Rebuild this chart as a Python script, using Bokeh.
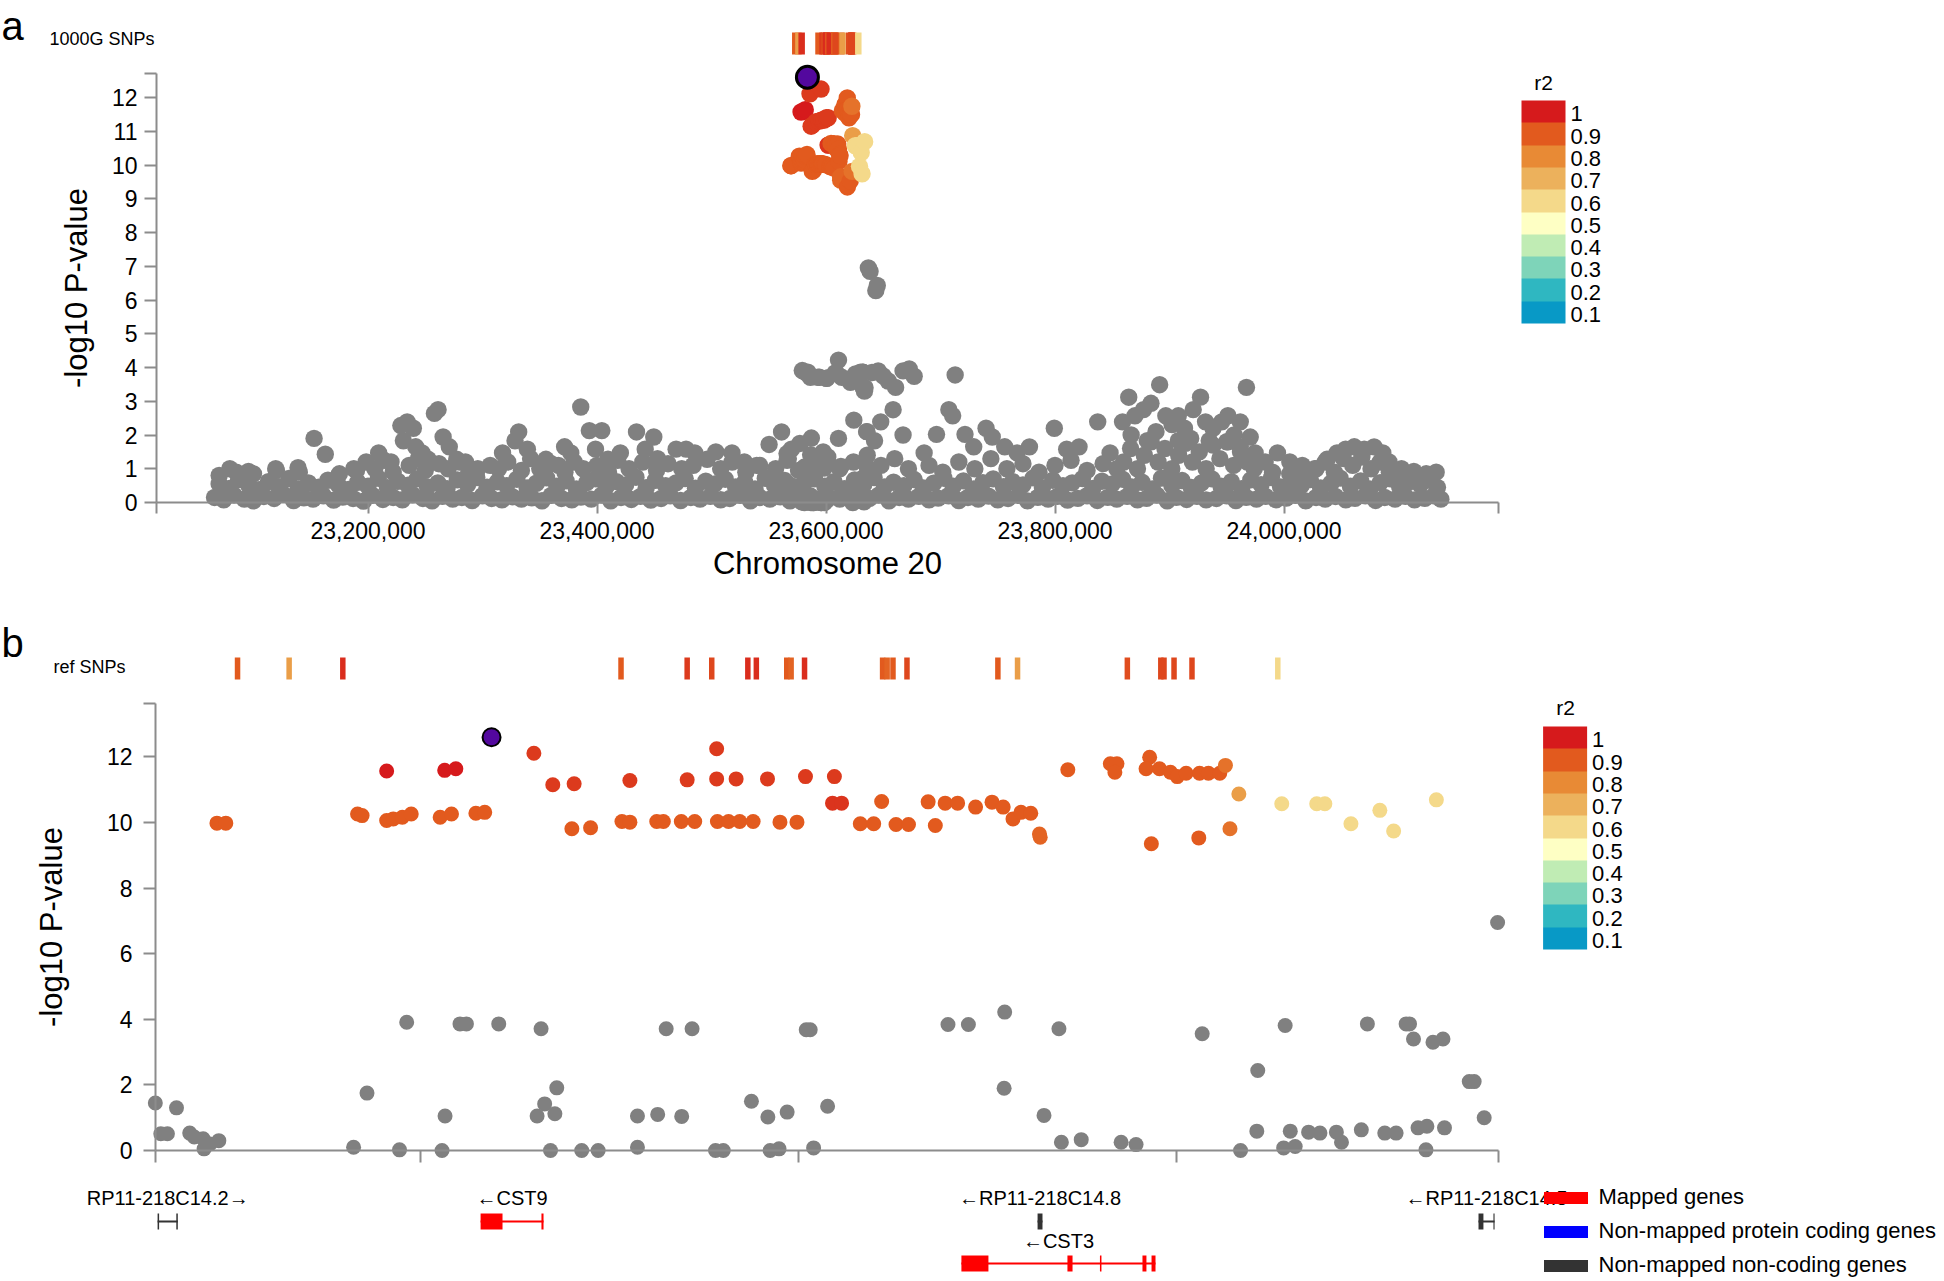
import numpy as np
from bokeh.plotting import figure
from bokeh.models import (Range1d, LinearAxis, FixedTicker, ColumnDataSource, ColorBar,
                          LinearColorMapper, Label, Legend, LegendItem, NumeralTickFormatter)
from bokeh.core.properties import value
from bokeh.embed import file_html
from bokeh.resources import INLINE

# ======================= DATA =======================
# lead SNP (kb on chr20, -log10 P)
lead_kb = 23583.77
lead_p = 12.6

# SNPs in LD with the lead (kb, -log10 P, r2)
snp_kb = [23569.24, 23569.71, 23576.68, 23576.92, 23578.22, 23578.22, 23578.57, 23579.05, 23579.52,
          23581.05, 23581.65, 23581.29, 23581.88, 23582.94, 23583.41,
          23586.01, 23587.01, 23588.14, 23588.02, 23589.01, 23590.67, 23591.09, 23591.09,
          23592.51, 23592.86, 23593.81, 23594.12, 23594.52, 23595.72, 23596.31, 23596.90, 23597.61,
          23599.03, 23599.93, 23595.68, 23595.68, 23596.71, 23598.37, 23600.38, 23601.91,
          23601.81, 23602.29, 23603.28, 23603.99, 23604.41, 23605.17, 23605.83, 23607.25,
          23606.87, 23607.77, 23608.43, 23609.38, 23610.25, 23610.84, 23611.36, 23611.78,
          23612.30, 23612.80, 23612.76, 23614.26, 23616.51, 23616.86, 23616.75, 23618.59,
          23618.40, 23619.11, 23619.69, 23620.05, 23620.52, 23621.23, 23621.70, 23622.30,
          23622.60, 23623.31, 23618.68, 23621.19, 23622.84,
          23625.58, 23627.43, 23627.86, 23629.24, 23630.77, 23631.50, 23633.76]
snp_p = [9.98, 9.98, 10.26, 10.21, 11.57, 10.06, 10.11, 10.16, 10.26,
         10.16, 10.26, 11.59, 11.64, 10.28, 10.31,
         12.11, 11.15, 11.18, 9.81, 9.84, 10.03, 10.01, 11.28,
         10.03, 10.03, 10.03, 11.30, 10.03, 10.03, 10.03, 10.03, 10.03,
         10.01, 10.01, 12.25, 11.33, 11.33, 11.33, 11.40, 11.40,
         10.59, 10.59, 9.96, 9.96, 10.64, 9.94, 9.94, 9.91,
         10.63, 10.59, 10.59, 10.47, 10.62, 10.47, 10.11, 10.31,
         10.28, 9.55, 9.65, 11.61, 11.79, 11.79, 11.53, 11.99,
         11.64, 11.64, 11.53, 11.40, 11.50, 11.50, 11.50, 11.50,
         11.74, 10.87, 9.35, 9.53, 9.81,
         10.57, 10.57, 10.57, 9.96, 10.37, 9.74, 10.69]
snp_r2 = [0.9, 0.9, 0.9, 0.9, 1.0, 0.9, 0.9, 0.9, 0.9,
          0.9, 0.9, 1.0, 1.0, 0.9, 0.9,
          0.95, 0.95, 0.95, 0.9, 0.9, 0.9, 0.9, 0.95,
          0.9, 0.9, 0.9, 0.95, 0.9, 0.9, 0.9, 0.9, 0.9,
          0.9, 0.9, 0.95, 0.95, 0.95, 0.95, 0.95, 0.95,
          0.96, 0.96, 0.9, 0.9, 0.9, 0.9, 0.9, 0.9,
          0.9, 0.9, 0.9, 0.9, 0.9, 0.9, 0.9, 0.9,
          0.9, 0.88, 0.88, 0.9, 0.9, 0.9, 0.9, 0.9,
          0.9, 0.9, 0.9, 0.9, 0.9, 0.9, 0.9, 0.9,
          0.85, 0.75, 0.9, 0.9, 0.85,
          0.6, 0.6, 0.6, 0.6, 0.6, 0.6, 0.6]

# SNPs not in LD, reference panel window (kb, -log10 P)
gray_b_kb = [23565.98, 23566.27, 23566.62, 23567.10, 23567.80, 23568.04, 23568.51, 23568.56, 23568.87, 23569.34,
             23576.47, 23577.18, 23579.28, 23578.90, 23581.15, 23581.31, 23582.10, 23582.44, 23584.15, 23586.39,
             23586.18, 23586.58, 23587.12, 23587.22, 23586.89, 23588.54, 23589.41, 23591.49, 23591.49, 23592.56,
             23593.01, 23594.38, 23593.83, 23595.62, 23596.03, 23597.52, 23598.39, 23598.51, 23598.98, 23599.41,
             23600.42, 23600.63, 23600.81, 23601.55, 23607.92, 23609.00, 23610.92, 23610.89, 23613.79, 23613.00,
             23613.92, 23614.97, 23617.08, 23617.87, 23621.37, 23623.40, 23624.31, 23624.26, 23625.76, 23625.68,
             23626.29, 23626.03, 23627.00, 23627.60, 23628.47, 23628.74, 23629.79, 23630.11, 23631.03, 23631.63,
             23632.16, 23632.34, 23632.55, 23632.79, 23633.26, 23633.21, 23633.58, 23634.11, 23634.19, 23635.50,
             23635.76, 23636.29, 23637.00]
gray_b_p = [1.45, 0.51, 0.51, 1.30, 0.53, 0.41, 0.36, 0.05, 0.20, 0.30,
            0.10, 1.75, 3.91, 0.02, 0.00, 1.05, 3.86, 3.86, 3.86, 3.71,
            1.05, 1.42, 1.12, 1.91, 0.00, 0.00, 0.00, 0.10, 1.05, 1.10,
            3.71, 3.71, 1.04, 0.00, 0.00, 1.50, 1.02, 0.00, 0.05, 1.17,
            3.68, 3.68, 0.08, 1.35, 3.84, 3.84, 4.22, 1.90, 3.71, 1.07,
            0.25, 0.33, 0.25, 0.18, 3.56, 0.00, 2.44, 0.59, 3.81, 0.08,
            0.12, 0.59, 0.56, 0.53, 0.56, 0.25, 0.63, 3.86, 0.53, 0.53,
            3.86, 3.86, 3.40, 0.69, 0.74, 0.02, 3.30, 3.40, 0.69, 2.10,
            2.10, 1.00, 6.95]

# additional 1000G SNPs of the whole region (panel a only)
band_lo_kb = [23066, 23074, 23083, 23092, 23100, 23109, 23118, 23126, 23135, 23144,
              23152, 23161, 23170, 23178, 23187, 23196, 23204, 23213, 23222, 23230,
              23239, 23248, 23256, 23265, 23274, 23282, 23291, 23300, 23308, 23317,
              23326, 23334, 23343, 23352, 23360, 23369, 23378, 23386, 23395, 23404,
              23412, 23421, 23430, 23438, 23447, 23456, 23464, 23473, 23482, 23490,
              23499, 23508, 23516, 23525, 23534, 23542, 23551, 23560, 23568, 23577,
              23586, 23594, 23603, 23612, 23620, 23629, 23638, 23646, 23655, 23664,
              23672, 23681, 23690, 23698, 23707, 23716, 23724, 23733, 23742, 23750,
              23759, 23768, 23776, 23785, 23794, 23802, 23811, 23820, 23828, 23837,
              23846, 23854, 23863, 23872, 23880, 23889, 23898, 23906, 23915, 23924,
              23932, 23941, 23950, 23958, 23967, 23976, 23984, 23993, 24002, 24010,
              24019, 24028, 24036, 24045, 24054, 24062, 24071, 24080, 24088, 24097,
              24106, 24114, 24123, 24131, 24137]
band_lo_p = [0.15, 0.08, 0.22, 0.10, 0.05, 0.18, 0.12, 0.25, 0.06, 0.14,
             0.10, 0.20, 0.07, 0.16, 0.12, 0.04, 0.21, 0.09, 0.15, 0.08,
             0.23, 0.12, 0.05, 0.18, 0.10, 0.15, 0.06, 0.20, 0.12, 0.08,
             0.17, 0.10, 0.14, 0.05, 0.21, 0.12, 0.08, 0.16, 0.10, 0.22,
             0.05, 0.15, 0.09, 0.18, 0.07, 0.12, 0.20, 0.06, 0.15, 0.10,
             0.18, 0.08, 0.12, 0.21, 0.05, 0.15, 0.10, 0.17, 0.08, 0.12,
             0.20, 0.06, 0.15, 0.10, 0.18, 0.08, 0.12, 0.22, 0.05, 0.15,
             0.10, 0.18, 0.08, 0.13, 0.20, 0.06, 0.15, 0.10, 0.19, 0.08,
             0.12, 0.21, 0.05, 0.15, 0.10, 0.18, 0.07, 0.12, 0.20, 0.06,
             0.15, 0.10, 0.18, 0.08, 0.12, 0.22, 0.05, 0.15, 0.09, 0.18,
             0.08, 0.12, 0.20, 0.06, 0.15, 0.10, 0.18, 0.08, 0.13, 0.21,
             0.05, 0.15, 0.10, 0.18, 0.08, 0.12, 0.20, 0.06, 0.15, 0.10,
             0.18, 0.08, 0.12, 0.20, 0.10]
band_hi_kb = [23070, 23079, 23087, 23096, 23105, 23113, 23122, 23131, 23139, 23148,
              23157, 23165, 23174, 23183, 23191, 23200, 23209, 23217, 23226, 23235,
              23243, 23252, 23261, 23269, 23278, 23287, 23295, 23304, 23313, 23321,
              23330, 23339, 23347, 23356, 23365, 23373, 23382, 23391, 23399, 23408,
              23417, 23425, 23434, 23443, 23451, 23460, 23469, 23477, 23486, 23495,
              23503, 23512, 23521, 23529, 23538, 23547, 23555, 23564, 23573, 23581,
              23590, 23599, 23607, 23616, 23625, 23633, 23642, 23651, 23659, 23668,
              23677, 23685, 23694, 23703, 23711, 23720, 23729, 23737, 23746, 23755,
              23763, 23772, 23781, 23789, 23798, 23807, 23815, 23824, 23833, 23841,
              23850, 23859, 23867, 23876, 23885, 23893, 23902, 23911, 23919, 23928,
              23937, 23945, 23954, 23963, 23971, 23980, 23989, 23997, 24006, 24015,
              24023, 24032, 24041, 24049, 24058, 24067, 24075, 24084, 24093, 24101,
              24110, 24119, 24127, 24134]
band_hi_p = [0.55, 0.42, 0.68, 0.50, 0.38, 0.62, 0.47, 0.71, 0.40, 0.58,
             0.45, 0.66, 0.52, 0.39, 0.60, 0.48, 0.72, 0.44, 0.63, 0.51,
             0.70, 0.46, 0.58, 0.41, 0.67, 0.53, 0.74, 0.45, 0.61, 0.50,
             0.69, 0.43, 0.57, 0.73, 0.48, 0.64, 0.40, 0.59, 0.70, 0.47,
             0.62, 0.52, 0.75, 0.44, 0.66, 0.50, 0.58, 0.71, 0.42, 0.63,
             0.55, 0.69, 0.46, 0.60, 0.40, 0.72, 0.51, 0.65, 0.45, 0.58,
             0.70, 0.48, 0.62, 0.41, 0.67, 0.53, 0.74, 0.46, 0.60, 0.50,
             0.68, 0.43, 0.57, 0.72, 0.48, 0.64, 0.40, 0.59, 0.70, 0.47,
             0.62, 0.52, 0.73, 0.44, 0.66, 0.50, 0.58, 0.71, 0.42, 0.63,
             0.55, 0.69, 0.46, 0.60, 0.40, 0.72, 0.51, 0.65, 0.45, 0.58,
             0.70, 0.48, 0.62, 0.41, 0.67, 0.53, 0.74, 0.46, 0.60, 0.50,
             0.68, 0.43, 0.57, 0.72, 0.48, 0.64, 0.40, 0.59, 0.70, 0.47,
             0.62, 0.52, 0.66, 0.45]
mid_kb = [23070, 23085, 23100, 23120, 23140, 23175, 23190,
          23206, 23214, 23222, 23236, 23244, 23250, 23262, 23270, 23280, 23288,
          23314, 23322, 23334, 23342, 23350, 23360, 23372, 23380, 23388,
          23400, 23410, 23418, 23428, 23440, 23452, 23462, 23474, 23484,
          23508, 23518, 23530, 23542, 23556, 23566, 23576,
          23590, 23600, 23612, 23624, 23636, 23648, 23660, 23672,
          23690, 23702, 23716, 23730, 23744, 23758, 23772, 23786, 23800, 23814, 23828, 23842, 23854,
          23860, 23866, 23872, 23878, 23884, 23890, 23896, 23902, 23908, 23914,
          23920, 23926, 23932, 23938, 23944, 23950, 23956, 23962, 23968, 23974,
          23990, 24005, 24015,
          24028, 24036, 24044, 24052, 24060, 24068, 24076, 24084, 24092,
          24105, 24125]
mid_p = [0.8, 0.9, 0.85, 0.95, 0.9, 0.85, 0.95,
         1.0, 1.25, 0.9, 1.1, 1.3, 0.95, 1.15, 1.0, 1.2, 0.9,
         1.0, 1.2, 0.95, 1.3, 1.0, 1.15, 0.9, 1.2, 1.0,
         1.1, 0.9, 1.25, 1.0, 1.2, 0.95, 1.15, 1.0, 1.1,
         1.0, 1.2, 0.9, 1.1, 1.0, 1.25, 0.95,
         1.1, 1.35, 1.0, 1.2, 1.4, 1.1, 1.3, 1.0,
         1.1, 0.9, 1.2, 1.0, 1.3, 1.0, 1.15, 0.9, 1.1, 1.25, 0.95, 1.15, 1.0,
         1.2, 1.6, 1.0, 1.4, 1.8, 1.2, 1.6, 1.0, 1.4, 1.75,
         1.2, 1.5, 1.0, 1.7, 1.3, 1.8, 1.1, 1.5, 1.2, 1.0,
         0.9, 0.85, 0.95,
         1.0, 1.2, 0.9, 1.3, 1.1, 1.35, 1.0, 1.2, 0.9,
         0.85, 0.8]
up_kb = [23079.3, 23095.6, 23119.4, 23138.9, 23152.9, 23162.7, 23187.6, 23198.4,
         23209.3, 23220.1, 23228.7, 23234.2, 23239.6, 23230.9, 23241.7,
         23247.2, 23252.6, 23258.0, 23261.2, 23265.6, 23271.0, 23277.5,
         23285.1, 23295.9, 23306.7, 23317.5, 23328.4, 23331.6, 23339.2,
         23355.4, 23366.3, 23371.7, 23377.1, 23385.8, 23393.3, 23404.2, 23398.7, 23409.6,
         23420.4, 23434.5, 23442.1, 23449.6, 23452.9, 23469.1, 23477.8, 23485.4, 23496.2, 23503.8,
         23517.9, 23528.7, 23539.5, 23550.3, 23561.2, 23569.8,
         23640.2, 23645.6, 23649.9, 23654.3, 23660.8, 23667.3, 23672.7, 23677.0, 23712.8,
         23638.5, 23644.8, 23643.5,
         23647.8, 23658.6, 23642.4, 23667.3,
         23685.7, 23696.5, 23707.3, 23710.6, 23721.4, 23729.0, 23739.8, 23745.2, 23756.1,
         23766.9, 23777.7, 23799.4, 23810.2, 23821.0, 23837.3, 23848.1,
         23859.0, 23864.4, 23869.8, 23877.3, 23883.8, 23891.4, 23896.8, 23902.2, 23907.7, 23913.1,
         23920.7, 23927.1, 23931.5, 23938.0, 23945.6, 23951.0, 23956.4, 23961.8, 23967.2, 23970.5,
         23866.5, 23880.6, 23888.2, 23907.7, 23918.5, 23934.7, 23951.0, 23961.8, 23974.8, 23983.5,
         23994.3, 24005.1, 24016.0, 24026.8, 24037.6, 24046.3, 24053.8, 24061.4, 24070.1, 24078.7,
         24086.3, 24091.7, 24102.6, 24113.4, 24124.2, 24132.9]
up_p = [1.0, 0.92, 1.0, 1.03, 1.9, 1.43, 1.0, 1.2,
        1.47, 1.2, 2.28, 2.39, 2.2, 1.83, 1.65,
        1.47, 1.28, 2.64, 2.75, 1.94, 1.65, 1.28,
        1.2, 1.0, 1.1, 1.47, 1.83, 2.09, 1.58,
        1.28, 1.1, 1.65, 1.47, 2.83, 2.13, 2.13, 1.58, 1.28,
        1.47, 2.09, 1.58, 1.94, 1.3, 1.58, 1.58, 1.47, 1.28, 1.5,
        1.47, 1.2, 1.1, 1.72, 2.09, 1.58,
        3.85, 3.9, 3.75, 3.6, 3.41, 3.9, 3.96, 3.74, 3.78,
        6.85, 6.43, 6.28,
        2.39, 2.75, 1.83, 2.0,
        1.47, 2.02, 2.75, 2.57, 2.02, 1.65, 2.2, 1.94, 1.65,
        1.47, 1.65, 2.2, 1.58, 1.65, 2.39, 1.47,
        2.39, 3.12, 2.57, 2.75, 2.94, 3.49, 2.57, 2.31, 2.57, 2.2,
        2.75, 3.12, 2.39, 2.2, 2.39, 2.57, 2.0, 2.39, 3.41, 1.94,
        2.0, 1.83, 2.1, 1.83, 1.9, 1.83, 1.8, 1.65, 1.47, 1.2,
        1.47, 1.2, 1.1, 1.0, 1.28, 1.47, 1.58, 1.65, 1.58, 1.65,
        1.47, 1.2, 1.0, 0.92, 0.85, 0.9]

# reference SNPs strip (kb, r2)
ref_kb = [23570.33, 23573.06, 23575.90, 23590.62, 23594.12, 23595.42, 23597.33, 23597.78,
          23599.39, 23599.62, 23600.33, 23604.46, 23604.70, 23605.01, 23605.75, 23610.56,
          23611.60, 23617.41, 23619.18, 23619.35, 23619.88, 23620.83, 23625.37]
ref_r2 = [0.9, 0.75, 0.97, 0.9, 0.95, 0.93, 0.97, 0.97,
          0.9, 0.88, 0.97, 0.9, 0.88, 0.9, 0.93, 0.9,
          0.75, 0.92, 0.93, 0.93, 0.93, 0.93, 0.6]

# genes (kb)
gene_name = ["RP11-218C14.2", "CST9", "RP11-218C14.8", "CST3", "RP11-218C14.5"]
gene_start = [23566.10, 23583.19, 23612.66, 23608.63, 23635.99]
gene_end = [23567.17, 23586.52, 23612.92, 23618.90, 23636.84]
gene_strand = ["+", "-", "-", "-", "-"]
gene_type = ["noncoding", "mapped", "noncoding", "mapped", "noncoding"]
gene_row = [0, 0, 0, 1, 0]
exon_gene = [0, 0, 1, 1, 2, 3, 3, 3, 3, 3, 4, 4]
exon_start = [23566.10, 23567.09, 23583.19, 23586.41, 23612.66, 23608.63, 23614.24, 23615.96,
              23618.21, 23618.69, 23635.99, 23636.78]
exon_end = [23566.18, 23567.17, 23584.35, 23586.52, 23612.92, 23610.06, 23614.51, 23616.04,
            23618.42, 23618.90, 23636.25, 23636.84]
gene_type_labels = {"mapped": "Mapped genes", "protein": "Non-mapped protein coding genes",
                    "noncoding": "Non-mapped non-coding genes"}

# axes
a_xticks = [23200000, 23400000, 23600000, 23800000, 24000000]
a_yticks = [0, 1, 2, 3, 4, 5, 6, 7, 8, 9, 10, 11, 12]
b_xticks = [23580000, 23600000, 23620000]
b_yticks = [0, 2, 4, 6, 8, 10, 12]
a_ytop = 12.7
b_ytop = 13.63
r2_ticks = [0.1, 0.2, 0.3, 0.4, 0.5, 0.6, 0.7, 0.8, 0.9, 1.0]

# ======================= STYLE / LAYOUT =======================
FONT = "Liberation Sans"
GREY = "#808080"
AXIS_COLOR = "#8c8c8c"
PURPLE = "#53089e"
r2_colors = ["#0899c6", "#2fb7c1", "#7ed4b9", "#c0ecb4", "#feffc4",
             "#f4d98a", "#ecb15c", "#e88a35", "#e25a1e", "#d61a1c"]
gene_colors = {"mapped": "#ff0000", "protein": "#0000ff", "noncoding": "#333333"}

W, H = 1944, 1281
OX, OY = 0, 0


def px_map(p0, v0, p1, v1):
    k = (v1 - v0) / (p1 - p0)
    return lambda q: v0 + (q - p0) * k


ax = px_map(367.5, 23200000, 1283.5, 24000000)
ay = px_map(502.0, 0.0, 97.0, 12.0)
bx = px_map(419.8, 23580000, 1175.8, 23620000)
by = px_map(1150.0, 0.0, 822.0, 10.0)

_rgb = np.array([[int(c[i:i + 2], 16) for i in (1, 3, 5)] for c in r2_colors], dtype=float)


def r2_color(r):
    ch = [np.interp(r, r2_ticks, _rgb[:, k]) for k in range(3)]
    return "#%02x%02x%02x" % tuple(int(round(v)) for v in ch)


p = figure(width=W, height=H,
           x_range=Range1d(ax(OX), ax(OX + W)), y_range=Range1d(ay(OY + H), ay(OY)),
           x_axis_type=None, y_axis_type=None, output_backend="svg", toolbar_location=None,
           min_border=0, outline_line_color=None,
           background_fill_color="white", border_fill_color="white")
p.extra_x_ranges = {"b": Range1d(bx(OX), bx(OX + W))}
p.extra_y_ranges = {"b": Range1d(by(OY + H), by(OY))}
B = dict(x_range_name="b", y_range_name="b")


def style_axis(axis, tick_out):
    axis.axis_line_color = AXIS_COLOR
    axis.axis_line_width = 2
    axis.major_tick_line_color = AXIS_COLOR
    axis.major_tick_line_width = 2
    axis.major_tick_in = 0
    axis.major_tick_out = tick_out
    axis.minor_tick_line_color = AXIS_COLOR
    axis.minor_tick_line_width = 2
    axis.minor_tick_in = 0
    axis.minor_tick_out = tick_out
    axis.major_label_text_font = FONT
    axis.major_label_text_font_size = "23px"
    axis.major_label_text_color = "black"
    axis.axis_label_text_font = FONT
    axis.axis_label_text_font_size = "31px"
    axis.axis_label_text_font_style = "normal"
    axis.axis_label_text_color = "black"


# ---- panel a axes
a_x0, a_x1 = ax(156), ax(1498)
xa = LinearAxis(fixed_location=0, bounds=(a_x0, a_x1),
                ticker=FixedTicker(ticks=a_xticks, minor_ticks=[a_x0, a_x1]),
                formatter=NumeralTickFormatter(format="0,0"), axis_label="Chromosome 20",
                major_label_standoff=8, axis_label_standoff=4)
style_axis(xa, 11)
p.add_layout(xa, "below")
ya = LinearAxis(fixed_location=a_x0, bounds=(0, a_ytop),
                ticker=FixedTicker(ticks=a_yticks, minor_ticks=[a_ytop]),
                axis_label="-log10 P-value", major_label_standoff=7, axis_label_standoff=15)
style_axis(ya, 12)
p.add_layout(ya, "left")

# ---- panel b axes
b_x0, b_x1 = bx(155), bx(1498)
xb = LinearAxis(fixed_location=0, bounds=(b_x0, b_x1),
                ticker=FixedTicker(ticks=b_xticks, minor_ticks=[b_x0, b_x1]),
                major_label_overrides={t: "" for t in b_xticks}, **B)
style_axis(xb, 12)
p.add_layout(xb, "below")
yb = LinearAxis(fixed_location=b_x0, bounds=(0, b_ytop),
                ticker=FixedTicker(ticks=b_yticks, minor_ticks=[b_ytop]),
                axis_label="-log10 P-value", major_label_standoff=11, axis_label_standoff=35, **B)
style_axis(yb, 12)
p.add_layout(yb, "left")

# ---- panel a glyphs
kb = 1000.0
grey_a_kb = band_lo_kb + band_hi_kb + mid_kb + up_kb + gray_b_kb
grey_a_p = band_lo_p + band_hi_p + mid_p + up_p + gray_b_p
p.scatter(x=[v * kb for v in grey_a_kb], y=grey_a_p, size=17.4, fill_color=GREY, line_color=None)
snp_cols = [r2_color(r) for r in snp_r2]
p.scatter(x=[v * kb for v in snp_kb], y=snp_p, size=17.4, fill_color=snp_cols, line_color=None)
p.scatter(x=[lead_kb * kb], y=[lead_p], size=22, fill_color=PURPLE, line_color="black", line_width=3)

ref_cols = [r2_color(r) for r in ref_r2]
wa = ax(6.5) - ax(0)
p.quad(left=[v * kb for v in ref_kb], right=[v * kb + wa for v in ref_kb],
       bottom=ay(54), top=ay(32), fill_color=ref_cols, line_color=None)

# ---- panel b glyphs
p.scatter(x=[v * kb for v in gray_b_kb], y=gray_b_p, size=15, fill_color=GREY, line_color=None, **B)
p.scatter(x=[v * kb for v in snp_kb], y=snp_p, size=15, fill_color=snp_cols, line_color=None, **B)
p.scatter(x=[lead_kb * kb], y=[lead_p], size=18, fill_color=PURPLE, line_color="black", line_width=2, **B)
wb = bx(5.5) - bx(0)
p.quad(left=[v * kb - wb / 2 for v in ref_kb], right=[v * kb + wb / 2 for v in ref_kb],
       bottom=by(679), top=by(657), fill_color=ref_cols, line_color=None, **B)

# ---- gene track
row_px = [1221, 1263]
label_px = [1197, 1240]
ex_half = 8
for i, name in enumerate(gene_name):
    yc = by(row_px[gene_row[i]])
    p.segment(x0=[gene_start[i] * kb], x1=[gene_end[i] * kb], y0=[yc], y1=[yc],
              line_color=gene_colors[gene_type[i]], line_width=2, **B)
ex_renderers = {}
for t in ["mapped", "protein", "noncoding"]:
    idx = [j for j, g in enumerate(exon_gene) if gene_type[g] == t]
    if idx:
        src = dict(left=[exon_start[j] * kb for j in idx],
                   right=[exon_end[j] * kb for j in idx],
                   top=[by(row_px[gene_row[exon_gene[j]]] - ex_half) for j in idx],
                   bottom=[by(row_px[gene_row[exon_gene[j]]] + ex_half) for j in idx])
    else:
        # no gene of this class in the window: placeholder row, not drawn
        src = dict(left=np.array([np.nan]), right=np.array([np.nan]),
                   top=np.array([np.nan]), bottom=np.array([np.nan]))
    ex_renderers[t] = p.quad(source=ColumnDataSource(src), left="left", right="right",
                             top="top", bottom="bottom",
                             fill_color=gene_colors[t], line_color=None, **B)
glabels = [(n + "\u2192") if s == "+" else ("\u2190" + n) for n, s in zip(gene_name, gene_strand)]
p.text(x=[(s + e) / 2 * kb for s, e in zip(gene_start, gene_end)],
       y=[by(label_px[r]) for r in gene_row], text=glabels,
       text_font=value(FONT), text_font_size="20px", text_align="center",
       text_baseline="middle", text_color="black", **B)

legend = Legend(items=[LegendItem(label=gene_type_labels[t], renderers=[ex_renderers[t]])
                       for t in ["mapped", "protein", "noncoding"]],
                location=(1537.5 - OX, OY + H - 1278), orientation="vertical",
                glyph_width=55, glyph_height=15,
                label_standoff=6, spacing=8, padding=0, margin=0, border_line_color=None,
                background_fill_alpha=0, label_text_font=FONT, label_text_font_size="22px",
                label_text_color="black")
p.add_layout(legend)


# ---- r2 colour bars
def r2_bar(loc):
    cm = LinearColorMapper(palette=r2_colors, low=0.06, high=1.06)
    return ColorBar(color_mapper=cm, ticker=FixedTicker(ticks=r2_ticks),
                    major_label_overrides={1.0: "1"}, location=loc, orientation="vertical",
                    width=44, height=223, padding=0, margin=0, label_standoff=5,
                    major_tick_line_color=None, bar_line_color=None, border_line_color=None,
                    background_fill_alpha=0, major_label_text_font=FONT,
                    major_label_text_font_size="22px", major_label_text_color="black")


p.add_layout(r2_bar((1521 - OX, OY + H - 323)))
p.add_layout(r2_bar((1542.6 - OX, OY + H - 949)))


# ---- text labels
def lab(text, x, y, size, panel, align="left", baseline="middle"):
    if panel == "a":
        kw = dict(x=ax(x), y=ay(y))
    else:
        kw = dict(x=bx(x), y=by(y), **B)
    p.add_layout(Label(text=text, text_font=FONT, text_font_size=size, text_align=align,
                       text_baseline=baseline, text_color="black", **kw))


lab("a", 1, 25, "40px", "a", baseline="alphabetic")
lab("1000G SNPs", 49, 38, "18px", "a")
lab("r2", 1543, 82, "21px", "a", align="center")
lab("b", 1, 642, "40px", "b", baseline="alphabetic")
lab("ref SNPs", 53, 666, "18px", "b")
lab("r2", 1565, 707, "21px", "b", align="center")

open("out.html", "w").write(file_html(p, INLINE))
